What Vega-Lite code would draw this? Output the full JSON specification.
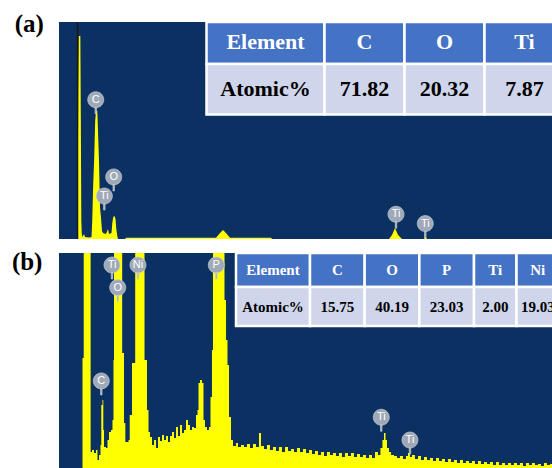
{
  "$schema": "https://vega.github.io/schema/vega-lite/v6.json",
  "background": "#ffffff",
  "padding": {"left": 11, "top": 12, "right": 0, "bottom": 0},
  "spacing": 10,
  "config": {"view": {"fill": "#0A3161", "stroke": null}},
  "datasets": {
    "specA": [
      {"keV": -0.263, "counts": 0}, {"keV": -0.007, "counts": 0}, {"keV": 0.003, "counts": 18.9}, {"keV": 0.011, "counts": 68.2},
      {"keV": 0.018, "counts": 93.5}, {"keV": 0.040, "counts": 93.5}, {"keV": 0.047, "counts": 55.8}, {"keV": 0.054, "counts": 8.3},
      {"keV": 0.061, "counts": 2.3}, {"keV": 0.071, "counts": 0.9}, {"keV": 0.092, "counts": 2.3}, {"keV": 0.107, "counts": 0.9},
      {"keV": 0.163, "counts": 0.7}, {"keV": 0.199, "counts": 0.9}, {"keV": 0.209, "counts": 8.3}, {"keV": 0.223, "counts": 25.3},
      {"keV": 0.237, "counts": 37.3}, {"keV": 0.251, "counts": 54.4}, {"keV": 0.263, "counts": 59.0}, {"keV": 0.281, "counts": 59.0},
      {"keV": 0.291, "counts": 49.8}, {"keV": 0.305, "counts": 35.9}, {"keV": 0.320, "counts": 14.3}, {"keV": 0.334, "counts": 9.7},
      {"keV": 0.348, "counts": 3.7}, {"keV": 0.362, "counts": 2.8}, {"keV": 0.405, "counts": 2.3}, {"keV": 0.433, "counts": 4.6},
      {"keV": 0.447, "counts": 2.3}, {"keV": 0.483, "counts": 2.8}, {"keV": 0.494, "counts": 7.4}, {"keV": 0.507, "counts": 10.1},
      {"keV": 0.526, "counts": 10.6}, {"keV": 0.540, "counts": 9.2}, {"keV": 0.551, "counts": 4.6}, {"keV": 0.565, "counts": 1.4},
      {"keV": 0.575, "counts": 0}, {"keV": 0.675, "counts": 0}, {"keV": 0.689, "counts": 0.6}, {"keV": 1.967, "counts": 0.6},
      {"keV": 2.024, "counts": 2.8}, {"keV": 2.067, "counts": 4.1}, {"keV": 2.109, "counts": 2.8}, {"keV": 2.166, "counts": 0.6},
      {"keV": 2.749, "counts": 0.6}, {"keV": 2.763, "counts": 0}, {"keV": 4.425, "counts": 0}, {"keV": 4.467, "counts": 1.8},
      {"keV": 4.510, "counts": 5.1}, {"keV": 4.553, "counts": 1.8}, {"keV": 4.609, "counts": 0}, {"keV": 4.922, "counts": 0},
      {"keV": 4.943, "counts": 1.4}, {"keV": 4.964, "counts": 0}, {"keV": 6.754, "counts": 0}
    ],
    "specB": [
      {"keV": -0.368, "counts": 0}, {"keV": -0.018, "counts": 0}, {"keV": -0.015, "counts": 51.2}, {"keV": -0.003, "counts": 51.2},
      {"keV": 0.003, "counts": 106}, {"keV": 0.101, "counts": 106}, {"keV": 0.107, "counts": 7.4}, {"keV": 0.128, "counts": 8.4},
      {"keV": 0.158, "counts": 7.0}, {"keV": 0.188, "counts": 8.4}, {"keV": 0.210, "counts": 3.7}, {"keV": 0.233, "counts": 6.0},
      {"keV": 0.255, "counts": 10.7}, {"keV": 0.267, "counts": 29.3}, {"keV": 0.285, "counts": 31.6}, {"keV": 0.297, "counts": 17.7},
      {"keV": 0.308, "counts": 9.8}, {"keV": 0.338, "counts": 9.3}, {"keV": 0.360, "counts": 13.0}, {"keV": 0.383, "counts": 16.7},
      {"keV": 0.413, "counts": 17.7}, {"keV": 0.435, "counts": 22.3}, {"keV": 0.450, "counts": 50.2}, {"keV": 0.458, "counts": 106},
      {"keV": 0.578, "counts": 106}, {"keV": 0.581, "counts": 53.5}, {"keV": 0.602, "counts": 53.5}, {"keV": 0.608, "counts": 20.9},
      {"keV": 0.628, "counts": 12.1}, {"keV": 0.676, "counts": 13.0}, {"keV": 0.694, "counts": 24.7}, {"keV": 0.728, "counts": 48.8},
      {"keV": 0.766, "counts": 48.8}, {"keV": 0.776, "counts": 106}, {"keV": 0.908, "counts": 106}, {"keV": 0.916, "counts": 50.2},
      {"keV": 0.938, "counts": 50.2}, {"keV": 0.953, "counts": 27.0}, {"keV": 0.976, "counts": 16.7}, {"keV": 0.998, "counts": 14.4},
      {"keV": 1.029, "counts": 10.7}, {"keV": 1.059, "counts": 13.0}, {"keV": 1.089, "counts": 9.3}, {"keV": 1.119, "counts": 14.4},
      {"keV": 1.149, "counts": 12.6}, {"keV": 1.179, "counts": 15.3}, {"keV": 1.209, "counts": 13.0}, {"keV": 1.239, "counts": 14.9},
      {"keV": 1.269, "counts": 12.1}, {"keV": 1.299, "counts": 14.9}, {"keV": 1.329, "counts": 16.7}, {"keV": 1.359, "counts": 14.0},
      {"keV": 1.389, "counts": 19.1}, {"keV": 1.419, "counts": 14.9}, {"keV": 1.449, "counts": 20.0}, {"keV": 1.479, "counts": 16.3},
      {"keV": 1.509, "counts": 17.7}, {"keV": 1.539, "counts": 22.3}, {"keV": 1.569, "counts": 20.0}, {"keV": 1.599, "counts": 17.7},
      {"keV": 1.629, "counts": 19.1}, {"keV": 1.659, "counts": 18.6}, {"keV": 1.689, "counts": 24.7}, {"keV": 1.712, "counts": 27.0},
      {"keV": 1.727, "counts": 39.5}, {"keV": 1.749, "counts": 40.9}, {"keV": 1.779, "counts": 39.5}, {"keV": 1.802, "counts": 22.3},
      {"keV": 1.824, "counts": 19.1}, {"keV": 1.854, "counts": 17.7}, {"keV": 1.884, "counts": 19.1}, {"keV": 1.907, "counts": 33.0},
      {"keV": 1.929, "counts": 54.9}, {"keV": 1.944, "counts": 106}, {"keV": 2.102, "counts": 106}, {"keV": 2.117, "counts": 78.1},
      {"keV": 2.140, "counts": 59.5}, {"keV": 2.162, "counts": 47.9}, {"keV": 2.185, "counts": 23.7}, {"keV": 2.215, "counts": 13.0},
      {"keV": 2.245, "counts": 10.2}, {"keV": 2.290, "counts": 11.6}, {"keV": 2.320, "counts": 9.8}, {"keV": 2.365, "counts": 10.7},
      {"keV": 2.410, "counts": 9.8}, {"keV": 2.455, "counts": 11.2}, {"keV": 2.500, "counts": 9.3}, {"keV": 2.545, "counts": 11.2},
      {"keV": 2.590, "counts": 9.8}, {"keV": 2.635, "counts": 16.3}, {"keV": 2.665, "counts": 10.2}, {"keV": 2.710, "counts": 8.8},
      {"keV": 2.755, "counts": 10.7}, {"keV": 2.800, "counts": 8.4}, {"keV": 2.845, "counts": 9.8}, {"keV": 2.890, "counts": 7.9},
      {"keV": 2.935, "counts": 9.8}, {"keV": 2.980, "counts": 7.4}, {"keV": 3.026, "counts": 9.8}, {"keV": 3.071, "counts": 7.9},
      {"keV": 3.116, "counts": 8.8}, {"keV": 3.161, "counts": 7.4}, {"keV": 3.206, "counts": 9.3}, {"keV": 3.251, "counts": 7.4},
      {"keV": 3.296, "counts": 8.8}, {"keV": 3.341, "counts": 7.0}, {"keV": 3.386, "counts": 8.4}, {"keV": 3.431, "counts": 6.5},
      {"keV": 3.476, "counts": 7.9}, {"keV": 3.521, "counts": 6.0}, {"keV": 3.566, "counts": 7.4}, {"keV": 3.611, "counts": 5.6},
      {"keV": 3.656, "counts": 7.4}, {"keV": 3.701, "counts": 6.0}, {"keV": 3.746, "counts": 7.0}, {"keV": 3.791, "counts": 5.6},
      {"keV": 3.836, "counts": 7.0}, {"keV": 3.881, "counts": 5.1}, {"keV": 3.926, "counts": 7.0}, {"keV": 3.971, "counts": 5.6},
      {"keV": 4.016, "counts": 7.0}, {"keV": 4.062, "counts": 5.1}, {"keV": 4.107, "counts": 6.5}, {"keV": 4.152, "counts": 5.1},
      {"keV": 4.197, "counts": 6.0}, {"keV": 4.242, "counts": 4.7}, {"keV": 4.287, "counts": 6.0}, {"keV": 4.332, "counts": 4.7},
      {"keV": 4.377, "counts": 7.4}, {"keV": 4.422, "counts": 6.0}, {"keV": 4.459, "counts": 9.3}, {"keV": 4.489, "counts": 13.0},
      {"keV": 4.512, "counts": 16.3}, {"keV": 4.535, "counts": 13.0}, {"keV": 4.557, "counts": 9.3}, {"keV": 4.587, "counts": 7.4},
      {"keV": 4.617, "counts": 6.0}, {"keV": 4.662, "counts": 5.6}, {"keV": 4.707, "counts": 4.7}, {"keV": 4.752, "counts": 5.6},
      {"keV": 4.797, "counts": 4.2}, {"keV": 4.842, "counts": 5.6}, {"keV": 4.872, "counts": 7.0}, {"keV": 4.902, "counts": 5.1},
      {"keV": 4.932, "counts": 6.0}, {"keV": 4.977, "counts": 4.2}, {"keV": 5.023, "counts": 5.6}, {"keV": 5.068, "counts": 3.7},
      {"keV": 5.113, "counts": 5.1}, {"keV": 5.158, "counts": 3.7}, {"keV": 5.203, "counts": 4.7}, {"keV": 5.248, "counts": 3.3},
      {"keV": 5.293, "counts": 4.7}, {"keV": 5.338, "counts": 3.3}, {"keV": 5.383, "counts": 4.2}, {"keV": 5.428, "counts": 2.8},
      {"keV": 5.473, "counts": 4.2}, {"keV": 5.518, "counts": 2.8}, {"keV": 5.563, "counts": 3.7}, {"keV": 5.608, "counts": 2.3},
      {"keV": 5.653, "counts": 3.7}, {"keV": 5.698, "counts": 2.3}, {"keV": 5.743, "counts": 3.3}, {"keV": 5.788, "counts": 2.3},
      {"keV": 5.833, "counts": 3.3}, {"keV": 5.878, "counts": 1.9}, {"keV": 5.923, "counts": 3.3}, {"keV": 5.968, "counts": 1.9},
      {"keV": 6.014, "counts": 2.8}, {"keV": 6.059, "counts": 1.9}, {"keV": 6.104, "counts": 2.8}, {"keV": 6.149, "counts": 1.4},
      {"keV": 6.194, "counts": 2.8}, {"keV": 6.239, "counts": 1.4}, {"keV": 6.284, "counts": 2.3}, {"keV": 6.329, "counts": 1.4},
      {"keV": 6.374, "counts": 2.3}, {"keV": 6.419, "counts": 1.4}, {"keV": 6.464, "counts": 2.3}, {"keV": 6.509, "counts": 1.4},
      {"keV": 6.554, "counts": 2.3}, {"keV": 6.599, "counts": 0.9}, {"keV": 6.644, "counts": 2.3}, {"keV": 6.689, "counts": 1.4},
      {"keV": 6.734, "counts": 2.3}, {"keV": 6.779, "counts": 1.4}, {"keV": 6.824, "counts": 1.9}, {"keV": 6.869, "counts": 0.9},
      {"keV": 6.914, "counts": 2.3}, {"keV": 6.959, "counts": 1.4}, {"keV": 7.005, "counts": 1.9}, {"keV": 7.050, "counts": 1.4}
    ],
    "markA": [
      {"el": "C", "keV": 0.259, "counts": 64.2},
      {"el": "Ti", "keV": 0.381, "counts": 19.8},
      {"el": "O", "keV": 0.514, "counts": 28.6},
      {"el": "Ti", "keV": 4.524, "counts": 11.4},
      {"el": "Ti", "keV": 4.940, "counts": 7.1}
    ],
    "markB": [
      {"el": "Ti", "keV": 0.428, "counts": 94.4},
      {"el": "Ni", "keV": 0.818, "counts": 94.4},
      {"el": "O", "keV": 0.514, "counts": 83.9},
      {"el": "P", "keV": 1.994, "counts": 94.4},
      {"el": "C", "keV": 0.267, "counts": 40.5},
      {"el": "Ti", "keV": 4.471, "counts": 23.6},
      {"el": "Ti", "keV": 4.902, "counts": 13.0}
    ],
    "tableA": [
      {"row": "Element", "col": "Element", "text": "Element"},
      {"row": "Atomic%", "col": "Element", "text": "Atomic%"},
      {"row": "Element", "col": "C", "text": "C"},
      {"row": "Atomic%", "col": "C", "text": "71.82"},
      {"row": "Element", "col": "O", "text": "O"},
      {"row": "Atomic%", "col": "O", "text": "20.32"},
      {"row": "Element", "col": "Ti", "text": "Ti"},
      {"row": "Atomic%", "col": "Ti", "text": "7.87"}
    ],
    "tableB": [
      {"row": "Element", "col": "Element", "text": "Element"},
      {"row": "Atomic%", "col": "Element", "text": "Atomic%"},
      {"row": "Element", "col": "C", "text": "C"},
      {"row": "Atomic%", "col": "C", "text": "15.75"},
      {"row": "Element", "col": "O", "text": "O"},
      {"row": "Atomic%", "col": "O", "text": "40.19"},
      {"row": "Element", "col": "P", "text": "P"},
      {"row": "Atomic%", "col": "P", "text": "23.03"},
      {"row": "Element", "col": "Ti", "text": "Ti"},
      {"row": "Atomic%", "col": "Ti", "text": "2.00"},
      {"row": "Element", "col": "Ni", "text": "Ni"},
      {"row": "Atomic%", "col": "Ni", "text": "19.03"}
    ]
  },
  "vconcat": [
    {
      "width": 494,
      "height": 217,
      "title": {"text": "(a)", "orient": "left", "angle": 0, "anchor": "end", "align": "right", "baseline": "top", "fontSize": 25, "font": "Liberation Serif", "fontWeight": "bold", "color": "#000000", "offset": -14, "dy": -9},
      "resolve": {"scale": {"x": "independent", "y": "independent"}},
      "layer": [
        {
          "encoding": {
            "x": {"field": "keV", "type": "quantitative", "axis": null, "scale": {"domain": [-0.263, 6.754], "nice": false, "zero": false}},
            "y": {"field": "counts", "type": "quantitative", "axis": null, "scale": {"domain": [0, 100], "nice": false}}
          },
          "layer": [
            {"data": {"name": "specA"}, "mark": {"type": "area", "color": "#FFFF00", "clip": true, "interpolate": "linear"}},
            {"data": {"values": [{"keV": 0}]}, "mark": {"type": "rule", "color": "#1A1A1A", "strokeWidth": 1.5}, "encoding": {"y": null}},
            {"data": {"name": "markA"}, "mark": {"type": "point", "shape": "M1,0A1,1,0,1,1,-1,0A1,1,0,1,1,1,0ZM-0.09,0.95L0.09,0.95L0.09,1.75L-0.09,1.75Z", "size": 256, "filled": true, "fill": "#A0A9B8", "stroke": "#C8CDD7", "strokeWidth": 0.7, "opacity": 1}},
            {"data": {"name": "markA"}, "mark": {"type": "text", "color": "#FFFFFF", "font": "Liberation Sans", "fontSize": 11}, "encoding": {"text": {"field": "el"}}}
          ]
        },
        {
          "data": {"name": "tableA"},
          "transform": [{"filter": "datum.row === 'Element' && datum.col === 'Element'"}],
          "encoding": {
            "x": {"field": "col", "type": "nominal", "axis": null, "scale": {"type": "band", "domain": ["Element"], "range": [147.5, 265.5], "paddingInner": 0, "paddingOuter": 0}},
            "y": {"field": "row", "type": "nominal", "axis": null, "scale": {"type": "band", "domain": ["Element"], "range": [0, 42], "paddingInner": 0, "paddingOuter": 0}}
          },
          "layer": [
            {"mark": {"type": "rect", "fill": "#4472C4", "stroke": "#FFFFFF", "strokeWidth": 2.5, "clip": true}},
            {"mark": {"type": "text", "color": "#FFFFFF", "font": "Liberation Serif", "fontWeight": "bold", "fontSize": 22, "clip": true, "dy": -1}, "encoding": {"text": {"field": "text"}}}
          ]
        },
        {
          "data": {"name": "tableA"},
          "transform": [{"filter": "datum.row === 'Atomic%' && datum.col === 'Element'"}],
          "encoding": {
            "x": {"field": "col", "type": "nominal", "axis": null, "scale": {"type": "band", "domain": ["Element"], "range": [147.5, 265.5], "paddingInner": 0, "paddingOuter": 0}},
            "y": {"field": "row", "type": "nominal", "axis": null, "scale": {"type": "band", "domain": ["Atomic%"], "range": [42, 92.5], "paddingInner": 0, "paddingOuter": 0}}
          },
          "layer": [
            {"mark": {"type": "rect", "fill": "#CFD5EA", "stroke": "#FFFFFF", "strokeWidth": 2.5, "clip": true}},
            {"mark": {"type": "text", "color": "#000000", "font": "Liberation Serif", "fontWeight": "bold", "fontSize": 22, "clip": true}, "encoding": {"text": {"field": "text"}}}
          ]
        },
        {
          "data": {"name": "tableA"},
          "transform": [{"filter": "datum.row === 'Element' && datum.col !== 'Element'"}],
          "encoding": {
            "x": {"field": "col", "type": "nominal", "axis": null, "scale": {"type": "band", "domain": ["C", "O", "Ti"], "range": [265.5, 505.5], "paddingInner": 0, "paddingOuter": 0}},
            "y": {"field": "row", "type": "nominal", "axis": null, "scale": {"type": "band", "domain": ["Element"], "range": [0, 42], "paddingInner": 0, "paddingOuter": 0}}
          },
          "layer": [
            {"mark": {"type": "rect", "fill": "#4472C4", "stroke": "#FFFFFF", "strokeWidth": 2.5, "clip": true}},
            {"mark": {"type": "text", "color": "#FFFFFF", "font": "Liberation Serif", "fontWeight": "bold", "fontSize": 22, "clip": true, "dy": -1}, "encoding": {"text": {"field": "text"}}}
          ]
        },
        {
          "data": {"name": "tableA"},
          "transform": [{"filter": "datum.row === 'Atomic%' && datum.col !== 'Element'"}],
          "encoding": {
            "x": {"field": "col", "type": "nominal", "axis": null, "scale": {"type": "band", "domain": ["C", "O", "Ti"], "range": [265.5, 505.5], "paddingInner": 0, "paddingOuter": 0}},
            "y": {"field": "row", "type": "nominal", "axis": null, "scale": {"type": "band", "domain": ["Atomic%"], "range": [42, 92.5], "paddingInner": 0, "paddingOuter": 0}}
          },
          "layer": [
            {"mark": {"type": "rect", "fill": "#CFD5EA", "stroke": "#FFFFFF", "strokeWidth": 2.5, "clip": true}},
            {"mark": {"type": "text", "color": "#000000", "font": "Liberation Serif", "fontWeight": "bold", "fontSize": 22, "clip": true}, "encoding": {"text": {"field": "text"}}}
          ]
        }
      ]
    },
    {
      "width": 494,
      "height": 215,
      "title": {"text": "(b)", "orient": "left", "angle": 0, "anchor": "end", "align": "right", "baseline": "top", "fontSize": 25, "font": "Liberation Serif", "fontWeight": "bold", "color": "#000000", "offset": -14, "dy": -3},
      "resolve": {"scale": {"x": "independent", "y": "independent"}},
      "layer": [
        {
          "encoding": {
            "x": {"field": "keV", "type": "quantitative", "axis": null, "scale": {"domain": [-0.368, 7.05], "nice": false, "zero": false}},
            "y": {"field": "counts", "type": "quantitative", "axis": null, "scale": {"domain": [0, 100], "nice": false}}
          },
          "layer": [
            {"data": {"name": "specB"}, "mark": {"type": "area", "color": "#FFFF00", "clip": true, "interpolate": "step-after"}},
            {"data": {"name": "markB"}, "mark": {"type": "point", "shape": "M1,0A1,1,0,1,1,-1,0A1,1,0,1,1,1,0ZM-0.09,0.95L0.09,0.95L0.09,1.75L-0.09,1.75Z", "size": 256, "filled": true, "fill": "#A0A9B8", "stroke": "#C8CDD7", "strokeWidth": 0.7, "opacity": 1}},
            {"data": {"name": "markB"}, "mark": {"type": "text", "color": "#FFFFFF", "font": "Liberation Sans", "fontSize": 11}, "encoding": {"text": {"field": "el"}}}
          ]
        },
        {
          "data": {"name": "tableB"},
          "transform": [{"filter": "datum.row === 'Element' && datum.col === 'Element'"}],
          "encoding": {
            "x": {"field": "col", "type": "nominal", "axis": null, "scale": {"type": "band", "domain": ["Element"], "range": [177, 251], "paddingInner": 0, "paddingOuter": 0}},
            "y": {"field": "row", "type": "nominal", "axis": null, "scale": {"type": "band", "domain": ["Element"], "range": [0, 34], "paddingInner": 0, "paddingOuter": 0}}
          },
          "layer": [
            {"mark": {"type": "rect", "fill": "#4472C4", "stroke": "#FFFFFF", "strokeWidth": 2.5, "clip": true}},
            {"mark": {"type": "text", "color": "#FFFFFF", "font": "Liberation Serif", "fontWeight": "bold", "fontSize": 15, "clip": true}, "encoding": {"text": {"field": "text"}}}
          ]
        },
        {
          "data": {"name": "tableB"},
          "transform": [{"filter": "datum.row === 'Atomic%' && datum.col === 'Element'"}],
          "encoding": {
            "x": {"field": "col", "type": "nominal", "axis": null, "scale": {"type": "band", "domain": ["Element"], "range": [177, 251], "paddingInner": 0, "paddingOuter": 0}},
            "y": {"field": "row", "type": "nominal", "axis": null, "scale": {"type": "band", "domain": ["Atomic%"], "range": [34, 73], "paddingInner": 0, "paddingOuter": 0}}
          },
          "layer": [
            {"mark": {"type": "rect", "fill": "#CFD5EA", "stroke": "#FFFFFF", "strokeWidth": 2.5, "clip": true}},
            {"mark": {"type": "text", "color": "#000000", "font": "Liberation Serif", "fontWeight": "bold", "fontSize": 15, "clip": true}, "encoding": {"text": {"field": "text"}}}
          ]
        },
        {
          "data": {"name": "tableB"},
          "transform": [{"filter": "datum.row === 'Element' && (datum.col === 'C' || datum.col === 'O' || datum.col === 'P')"}],
          "encoding": {
            "x": {"field": "col", "type": "nominal", "axis": null, "scale": {"type": "band", "domain": ["C", "O", "P"], "range": [251, 415], "paddingInner": 0, "paddingOuter": 0}},
            "y": {"field": "row", "type": "nominal", "axis": null, "scale": {"type": "band", "domain": ["Element"], "range": [0, 34], "paddingInner": 0, "paddingOuter": 0}}
          },
          "layer": [
            {"mark": {"type": "rect", "fill": "#4472C4", "stroke": "#FFFFFF", "strokeWidth": 2.5, "clip": true}},
            {"mark": {"type": "text", "color": "#FFFFFF", "font": "Liberation Serif", "fontWeight": "bold", "fontSize": 15, "clip": true}, "encoding": {"text": {"field": "text"}}}
          ]
        },
        {
          "data": {"name": "tableB"},
          "transform": [{"filter": "datum.row === 'Atomic%' && (datum.col === 'C' || datum.col === 'O' || datum.col === 'P')"}],
          "encoding": {
            "x": {"field": "col", "type": "nominal", "axis": null, "scale": {"type": "band", "domain": ["C", "O", "P"], "range": [251, 415], "paddingInner": 0, "paddingOuter": 0}},
            "y": {"field": "row", "type": "nominal", "axis": null, "scale": {"type": "band", "domain": ["Atomic%"], "range": [34, 73], "paddingInner": 0, "paddingOuter": 0}}
          },
          "layer": [
            {"mark": {"type": "rect", "fill": "#CFD5EA", "stroke": "#FFFFFF", "strokeWidth": 2.5, "clip": true}},
            {"mark": {"type": "text", "color": "#000000", "font": "Liberation Serif", "fontWeight": "bold", "fontSize": 15, "clip": true}, "encoding": {"text": {"field": "text"}}}
          ]
        },
        {
          "data": {"name": "tableB"},
          "transform": [{"filter": "datum.row === 'Element' && (datum.col === 'Ti' || datum.col === 'Ni')"}],
          "encoding": {
            "x": {"field": "col", "type": "nominal", "axis": null, "scale": {"type": "band", "domain": ["Ti", "Ni"], "range": [415, 500], "paddingInner": 0, "paddingOuter": 0}},
            "y": {"field": "row", "type": "nominal", "axis": null, "scale": {"type": "band", "domain": ["Element"], "range": [0, 34], "paddingInner": 0, "paddingOuter": 0}}
          },
          "layer": [
            {"mark": {"type": "rect", "fill": "#4472C4", "stroke": "#FFFFFF", "strokeWidth": 2.5, "clip": true}},
            {"mark": {"type": "text", "color": "#FFFFFF", "font": "Liberation Serif", "fontWeight": "bold", "fontSize": 15, "clip": true}, "encoding": {"text": {"field": "text"}}}
          ]
        },
        {
          "data": {"name": "tableB"},
          "transform": [{"filter": "datum.row === 'Atomic%' && (datum.col === 'Ti' || datum.col === 'Ni')"}],
          "encoding": {
            "x": {"field": "col", "type": "nominal", "axis": null, "scale": {"type": "band", "domain": ["Ti", "Ni"], "range": [415, 500], "paddingInner": 0, "paddingOuter": 0}},
            "y": {"field": "row", "type": "nominal", "axis": null, "scale": {"type": "band", "domain": ["Atomic%"], "range": [34, 73], "paddingInner": 0, "paddingOuter": 0}}
          },
          "layer": [
            {"mark": {"type": "rect", "fill": "#CFD5EA", "stroke": "#FFFFFF", "strokeWidth": 2.5, "clip": true}},
            {"mark": {"type": "text", "color": "#000000", "font": "Liberation Serif", "fontWeight": "bold", "fontSize": 15, "clip": true}, "encoding": {"text": {"field": "text"}}}
          ]
        }
      ]
    }
  ]
}
